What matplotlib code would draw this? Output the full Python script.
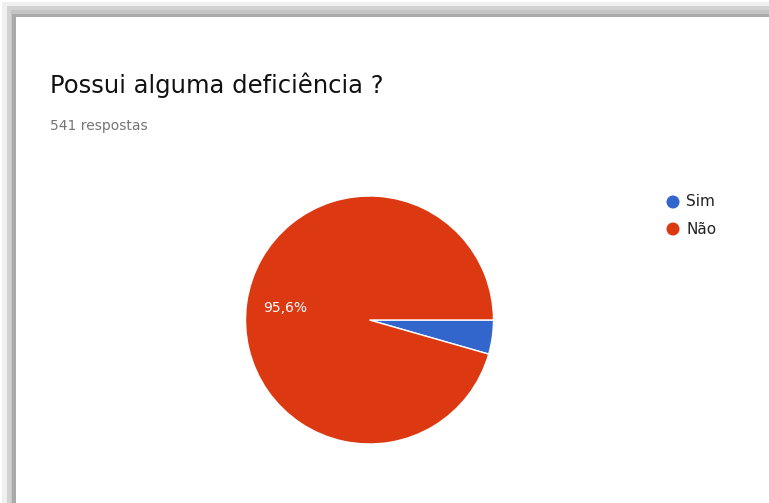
import matplotlib
matplotlib.use("Agg")
import matplotlib.pyplot as plt
from matplotlib.patches import Rectangle, Circle

labels = ["Sim", "Não"]
counts = [24, 517]
colors = ["#3366cc", "#dc3912"]
title = "Possui alguma deficiência ?"
subtitle = "541 respostas"

W, H = 769, 503
fig = plt.figure(figsize=(W / 100, H / 100), dpi=100)
fig.patch.set_facecolor("white")

def px(x, y):
    return x / W, 1 - y / H

FONT = "DejaVu Sans"

# frame / shadow
bg = fig.add_axes([0, 0, 1, 1])
bg.set_xlim(0, W); bg.set_ylim(H, 0); bg.axis("off")
bg.add_patch(Rectangle((2, 2), W, H, color="#f0f0f0", lw=0))
bg.add_patch(Rectangle((7, 6), W, H, color="#d2d2d2", lw=0))
bg.add_patch(Rectangle((11, 10), W, H, color="#c4c4c4", lw=0))
bg.add_patch(Rectangle((12, 14), W, H, color="#a9a9a9", lw=0))
bg.add_patch(Rectangle((16, 17), W, H, color="white", lw=0))

fig.text(*px(50, 85), title, fontsize=17.5, family=FONT, color="#111111", va="center", ha="left")
fig.text(*px(50, 126), subtitle, fontsize=10, family=FONT, color="#757575", va="center", ha="left")

# pie
cx, cy, r = 369.5, 320, 124
pad = 1.04
ax = fig.add_axes([(cx - r * pad) / W, (H - cy - r * pad) / H, 2 * r * pad / W, 2 * r * pad / H])

def fmt(p):
    return ("%.1f%%" % p).replace(".", ",") if p > 10 else ""

wedges, texts, autotexts = ax.pie(counts, colors=colors, startangle=0, counterclock=False,
                                  autopct=fmt, pctdistance=0.69,
                                  wedgeprops=dict(edgecolor="white", linewidth=1),
                                  textprops=dict(color="white", fontsize=10, family=FONT))
ax.set_xlim(-pad, pad); ax.set_ylim(-pad, pad); ax.axis("off")

# legend
for i, (lab, col) in enumerate(zip(labels, colors)):
    y = 202 + i * 27
    bg.add_patch(Circle((673, y), 6.5, color=col, lw=0))
    bg.text(686, y, lab, fontsize=11, family=FONT, color="#222222", va="center", ha="left")

fig.savefig("out.png", dpi=100)
